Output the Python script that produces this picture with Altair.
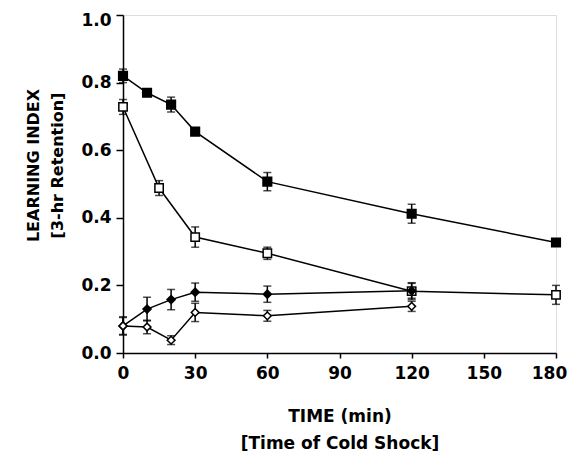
import altair as alt
import pandas as pd

series_names = ["A", "B", "C", "D"]
time_A = [0, 10, 20, 30, 60, 120, 180]
val_A = [0.82, 0.77, 0.735, 0.655, 0.507, 0.412, 0.327]
err_A = [0.02, 0.006, 0.022, 0.01, 0.027, 0.028, 0.01]
time_B = [0, 15, 30, 60, 120, 180]
val_B = [0.728, 0.488, 0.343, 0.295, 0.183, 0.172]
err_B = [0.022, 0.022, 0.03, 0.018, 0.025, 0.028]
time_C = [0, 10, 20, 30, 60, 120]
val_C = [0.08, 0.13, 0.158, 0.18, 0.174, 0.184]
err_C = [0.027, 0.035, 0.03, 0.027, 0.024, 0.022]
time_D = [0, 10, 20, 30, 60, 120]
val_D = [0.08, 0.077, 0.038, 0.12, 0.11, 0.138]
err_D = [0.025, 0.02, 0.013, 0.027, 0.016, 0.015]

x_ticks = [0, 15, 30, 45, 60, 75, 90, 105, 120, 135, 150, 165, 180]
y_ticks = [0, 0.1, 0.2, 0.3, 0.4, 0.5, 0.6, 0.7, 0.8, 0.9, 1.0]

rows = []
for name, ts, vs, es in [("A", time_A, val_A, err_A), ("B", time_B, val_B, err_B),
                         ("C", time_C, val_C, err_C), ("D", time_D, val_D, err_D)]:
    for t, v, e in zip(ts, vs, es):
        rows.append({"series": name, "t": t, "v": v, "lo": v - e, "hi": v + e})
df = pd.DataFrame(rows)

FONT = "DejaVu Sans"

x_enc = alt.X("t:Q", scale=alt.Scale(domain=[0, 180], nice=False, zero=False),
              axis=alt.Axis(values=x_ticks, labelExpr="datum.value % 30 == 0 ? datum.label : ''",
                            labelOffset=alt.ExprRef(expr="datum.value == 180 ? -7 : 0"),
                            title=["TIME (min)", "[Time of Cold Shock]"],
                            titleFontSize=17, titleFont=FONT, titleFontWeight="bold",
                            titleLineHeight=27, titlePadding=27,
                            labelFontSize=17, labelFont=FONT, labelFontWeight="bold",
                            labelPadding=7, labelFlush=False,
                            tickSize=5, tickColor="black", domainColor="black",
                            domainWidth=1.5, tickWidth=1.5, grid=False, labelColor="black",
                            titleColor="black"))
y_enc = alt.Y("v:Q", scale=alt.Scale(domain=[0, 1], nice=False),
              axis=alt.Axis(values=y_ticks,
                            labelExpr="round(datum.value*10) % 2 == 0 ? format(datum.value, '.1f') : ''",
                            labelOffset=alt.ExprRef(expr="datum.value == 1 ? 5 : 0"),
                            title=["LEARNING INDEX", "[3-hr Retention]"],
                            titleFontSize=16, titleFont=FONT, titleFontWeight="bold",
                            titleLineHeight=24, titleAngle=-90,
                            titleX=-98, titleY=150, titleAlign="center", titleBaseline="top",
                            labelFontSize=17, labelFont=FONT, labelFontWeight="bold",
                            labelPadding=5, labelFlush=False,
                            tickSize=7, tickColor="black", domainColor="black",
                            domainWidth=1.5, tickWidth=1.5, grid=False, labelColor="black",
                            titleColor="black"))

base = alt.Chart(df)

lines = base.mark_line(color="black", strokeWidth=1.5).encode(
    x=x_enc, y=y_enc, detail="series:N")

bars = base.mark_rule(color="black", strokeWidth=1.5).encode(
    x="t:Q", y="lo:Q", y2="hi:Q")
cap_lo = base.mark_tick(color="black", orient="horizontal", size=8, thickness=1.5).encode(
    x="t:Q", y="lo:Q")
cap_hi = base.mark_tick(color="black", orient="horizontal", size=8, thickness=1.5).encode(
    x="t:Q", y="hi:Q")

points = base.mark_point(filled=True, stroke="black", strokeWidth=1.5, opacity=1).encode(
    x="t:Q", y="v:Q",
    shape=alt.Shape("series:N", scale=alt.Scale(domain=series_names,
                    range=["square", "square", "diamond", "diamond"]), legend=None),
    fill=alt.Fill("series:N", scale=alt.Scale(domain=series_names,
                  range=["black", "white", "black", "white"]), legend=None),
    size=alt.Size("series:N", scale=alt.Scale(domain=series_names,
                  range=[75, 60, 50, 45]), legend=None),
)

chart = alt.layer(lines, bars, cap_lo, cap_hi, points).properties(
    width=433, height=338,
    autosize=alt.AutoSizeParams(type="none"),
    padding={"left": 115, "top": 7, "right": 13, "bottom": 98},
).configure_view(stroke=None).configure(background="white")

chart.save("out.html", embed_options={"renderer": "svg", "actions": False})
